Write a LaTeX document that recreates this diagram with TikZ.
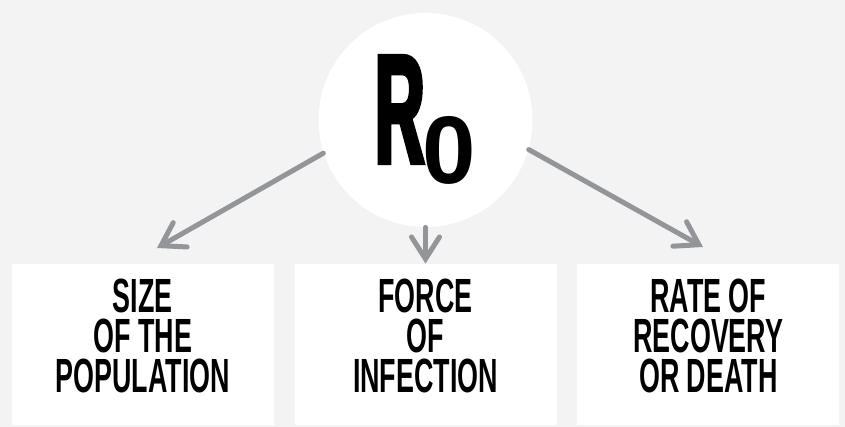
\documentclass[tikz,border=0pt]{standalone}
\usepackage{fontspec}
\usetikzlibrary{arrows.meta, positioning}
\newfontfamily\bigfont[FakeStretch=0.44, FakeBold=2.5]{Liberation Sans Bold}
\newfontfamily\subfont{Liberation Sans Bold}
\newfontfamily\boxfont[FakeStretch=0.56]{Liberation Sans Bold}
\definecolor{backdrop}{HTML}{F3F3F3}
\definecolor{arrowgray}{HTML}{939598}
\tikzset{
    hub/.style={circle, fill=white, minimum size=107pt, inner sep=0pt},
    factor/.style={fill=white, minimum width=131pt, minimum height=80.5pt,
        inner sep=0pt, align=center, text depth=9pt,
        font=\boxfont\fontsize{24}{20}\selectfont},
    link/.style={draw=arrowgray, line width=2.5pt, line cap=round,
        -{Straight Barb[length=11pt, width=14pt, line cap=round]}}
}

\begin{document}
\begin{tikzpicture}[x=0.5pt, y=0.5pt]
    \fill[backdrop] (0,0) rectangle (845,427);
    \node[hub] (r0) at (425.5,307)
        {\bigfont\fontsize{78}{78}\selectfont R\kern-1pt\raisebox{-10pt}{\subfont\fontsize{48}{48}\selectfont 0}};
    \node[factor] (force) at (425.5,82.5)     {FORCE\\OF\\INFECTION};
    \node[factor] (size)[left=10pt of force]  {SIZE\\OF THE\\POPULATION};
    \node[factor] (rate)[right=10pt of force] {RATE OF\\RECOVERY\\OR DEATH};
    \coordinate (size-in) at (157,179);
    \coordinate (rate-in) at (703,180);
    \draw[link] (r0.198)   -- (size-in);
    \draw[link] (r0.south) -- (force.north);
    \draw[link] (r0.344)   -- (rate-in);
\end{tikzpicture}
\end{document}
